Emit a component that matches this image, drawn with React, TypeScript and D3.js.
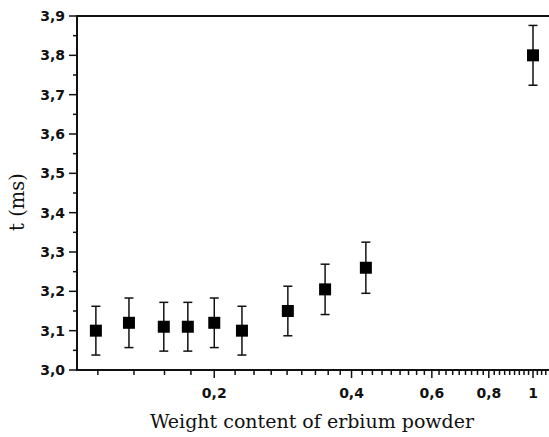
import React from "react";
import * as d3 from "d3";

const xValues = [0.11, 0.13, 0.155, 0.175, 0.2, 0.23, 0.29, 0.35, 0.43, 1.0];
const tValues = [3.1, 3.12, 3.11, 3.11, 3.12, 3.1, 3.15, 3.205, 3.26, 3.8];
const tErrors = [0.062, 0.063, 0.062, 0.062, 0.063, 0.062, 0.063, 0.064, 0.065, 0.076];

const xMajorTicks = [0.2, 0.4, 0.6, 0.8, 1.0];
const xTickLabels = ["0,2", "0,4", "0,6", "0,8", "1"];
const yMajorTicks = [3.0, 3.1, 3.2, 3.3, 3.4, 3.5, 3.6, 3.7, 3.8, 3.9];
const yTickLabels = ["3,0", "3,1", "3,2", "3,3", "3,4", "3,5", "3,6", "3,7", "3,8", "3,9"];
const yMinorTicks = [3.05, 3.15, 3.25, 3.35, 3.45, 3.55, 3.65, 3.75, 3.85];

const W = 549;
const H = 437;

export default function App() {
  const x = d3.scaleLog().domain([0.1, 1.0]).range([77, 533]);
  const y = d3.scaleLinear().domain([3.0, 3.9]).range([370, 16]);
  const xEndVal = 1.1;
  const xLeft = x(0.1);
  const xRight = x(xEndVal);
  const yBottom = y(3.0);
  const yTop = y(3.9);

  // minor x ticks: 8 subdivisions between the 0.2-spaced majors
  const step = 0.2 / 9;
  const xMinor: number[] = [];
  for (let k = 1; 0.2 - k * step > 0.1; k++) xMinor.push(0.2 - k * step);
  for (let k = 1; 0.2 + k * step < xEndVal; k++) {
    const v = 0.2 + k * step;
    if (k % 9 !== 0) xMinor.push(v);
  }

  const sq = 12;
  const cap = 4.5;

  return (
    <svg width={W} height={H} style={{ position: "absolute", left: 0, top: 0, background: "#fff" }}>
      <rect x={0} y={0} width={W} height={H} fill="#fff" />
      {/* axes */}
      <line x1={xLeft} x2={xRight} y1={yTop} y2={yTop} stroke="#111" strokeWidth={2} />
      <line x1={xLeft} x2={xRight} y1={yBottom} y2={yBottom} stroke="#111" strokeWidth={2} />
      <line x1={xLeft} x2={xLeft} y1={yTop - 1} y2={yBottom + 1} stroke="#111" strokeWidth={2} />

      {/* x ticks */}
      {xMinor.map((v, i) => (
        <line key={"xm" + i} x1={x(v)} x2={x(v)} y1={yBottom} y2={yBottom + 5} stroke="#111" strokeWidth={1.5} />
      ))}
      {xMajorTicks.map((v, i) => (
        <g key={"xM" + i}>
          <line x1={x(v)} x2={x(v)} y1={yBottom} y2={yBottom + 8} stroke="#111" strokeWidth={1.5} />
          <text
            x={x(v)}
            y={yBottom + 28}
            textAnchor="middle"
            fontFamily="'DejaVu Sans', sans-serif"
            fontWeight="bold"
            fontSize={14}
            fill="#111"
          >
            {xTickLabels[i]}
          </text>
        </g>
      ))}

      {/* y ticks */}
      {yMinorTicks.map((v, i) => (
        <line key={"ym" + i} x1={xLeft - 4} x2={xLeft} y1={y(v)} y2={y(v)} stroke="#111" strokeWidth={1.5} />
      ))}
      {yMajorTicks.map((v, i) => (
        <g key={"yM" + i}>
          <line x1={xLeft - 8} x2={xLeft} y1={y(v)} y2={y(v)} stroke="#111" strokeWidth={1.5} />
          <text
            x={xLeft - 12}
            y={y(v)}
            dy="0.36em"
            textAnchor="end"
            fontFamily="'DejaVu Sans', sans-serif"
            fontWeight="bold"
            fontSize={14}
            fill="#111"
          >
            {yTickLabels[i]}
          </text>
        </g>
      ))}

      {/* error bars and markers */}
      {xValues.map((v, i) => {
        const cx = x(v);
        const cy = y(tValues[i]);
        const yt = y(tValues[i] + tErrors[i]);
        const yb = y(tValues[i] - tErrors[i]);
        return (
          <g key={"p" + i}>
            <line x1={cx} x2={cx} y1={yt} y2={yb} stroke="#111" strokeWidth={1.5} />
            <line x1={cx - cap} x2={cx + cap} y1={yt} y2={yt} stroke="#111" strokeWidth={1.5} />
            <line x1={cx - cap} x2={cx + cap} y1={yb} y2={yb} stroke="#111" strokeWidth={1.5} />
            <rect x={cx - sq / 2} y={cy - sq / 2} width={sq} height={sq} fill="#000" />
          </g>
        );
      })}

      {/* axis titles */}
      <text
        x={312}
        y={428}
        textAnchor="middle"
        fontFamily="'DejaVu Serif', serif"
        fontSize={19}
        fill="#111"
      >
        Weight content of erbium powder
      </text>
      <text
        transform={`translate(17, 202) rotate(-90)`}
        textAnchor="middle"
        fontFamily="'DejaVu Serif', serif"
        fontSize={19.5}
        dy="0.35em"
        fill="#111"
      >
        t (ms)
      </text>
    </svg>
  );
}
